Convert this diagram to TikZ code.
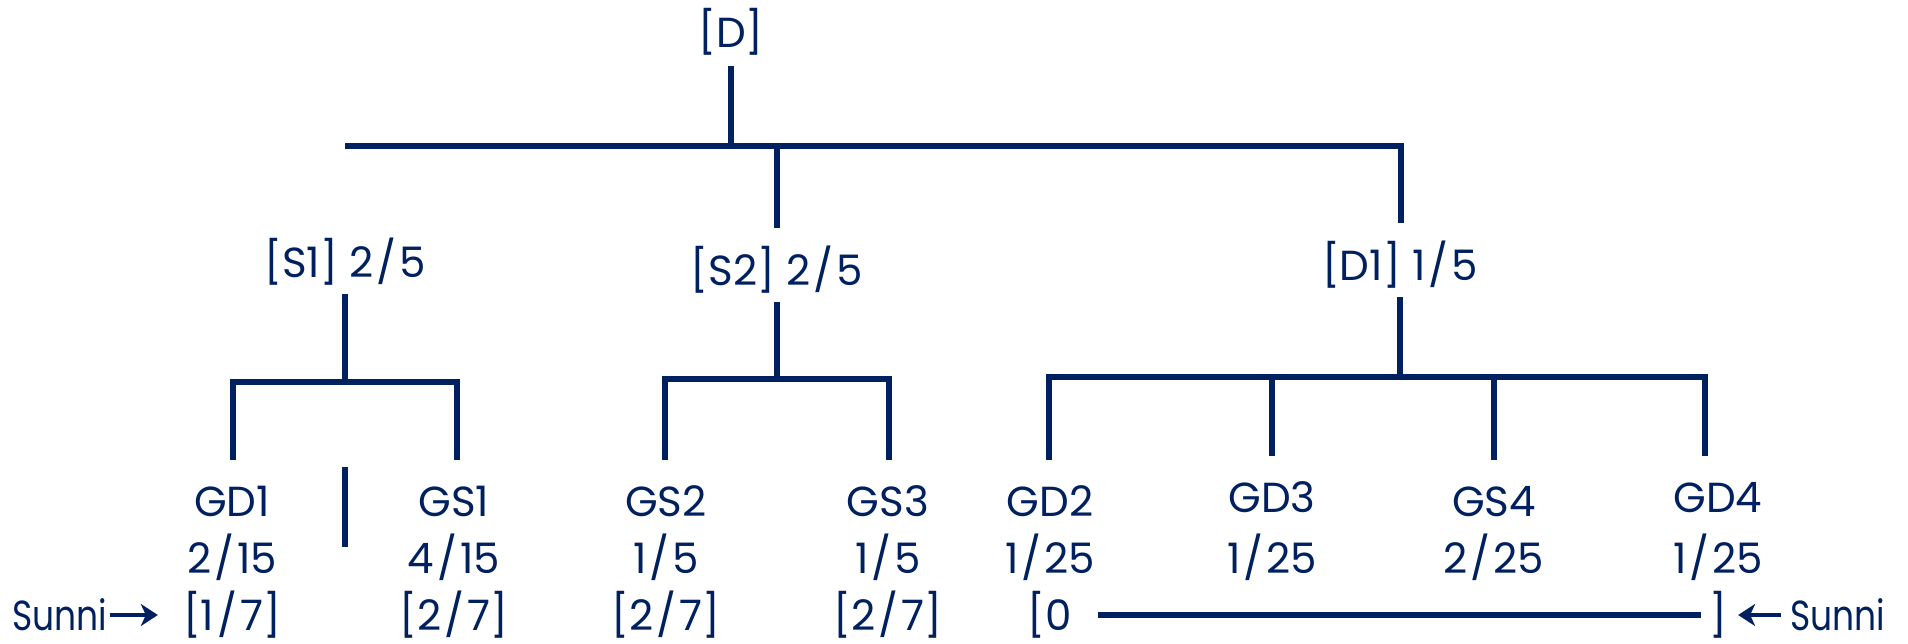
\documentclass[tikz,border=0pt]{standalone}
\usepackage{fontspec}
\setmainfont{Poppins}
\newfontfamily\tagfont{Poppins}[FakeStretch=0.82]
\usetikzlibrary{arrows.meta}
\definecolor{navy}{RGB}{0,32,96}
\newcommand\frsl{\kern3pt/\kern3pt}

\begin{document}
\begin{tikzpicture}[x=1pt, y=-1pt,
    lbl/.style={text=navy, font=\fontsize{42}{48}\selectfont, inner sep=0pt,
                text height=30pt, text depth=0pt, anchor=base},
    par/.style={lbl, text height=57pt, text depth=17pt},
    leaf/.style={lbl, text height=56pt},
    tag/.style={lbl, font=\fontsize{42}{48}\selectfont\tagfont, inner xsep=2pt},
    br/.style={draw=navy, line width=6pt},
    arr/.style={-{Stealth[length=17pt, width=22pt, inset=5pt]}, navy, line width=4.5pt}
  ]
  \useasboundingbox (0,0) rectangle (1908,644);

  % deceased and children
  \node[lbl, text depth=18pt] (d) at (731,48) {[D]};
  \node[par] (s1) at (345,277) {[S1] 2\frsl 5};
  \node[par] (s2) at (777,285) {[S2] 2\frsl 5};
  \node[par] (d1) at (1400,280) {[D1] 1\frsl 5};

  % grandchildren: name and share
  \foreach \nm/\px/\py/\ta/\tb in {gd1/232/516/GD1/2\frsl 15, gs1/454/516/GS1/4\frsl 15,
      gs2/666/516/GS2/1\frsl 5, gs3/888/516/GS3/1\frsl 5, gd2/1050/516/GD2/1\frsl 25,
      gd3/1272/512/GD3/1\frsl 25, gs4/1494/516/GS4/2\frsl 25, gd4/1718/512/GD4/1\frsl 25}
  {
    \node[leaf] (\nm) at (\px,\py) {\ta};
    \node[lbl] (\nm-s) at (\px,573) {\tb};
  }
  \foreach \nm/\px/\tc in {gd1/232/[1\frsl 7], gs1/454/[2\frsl 7], gs2/666/[2\frsl 7], gs3/888/[2\frsl 7]}
    \node[lbl] (\nm-r) at (\px,630) {\tc};
  \node[lbl] (gd2-r) at (1050,630) {[0};
  \node[lbl] (gd4-r) at (1718,630) {]};
  \node[tag] (sun-l) at (60,630) {Sunni};
  \node[tag] (sun-r) at (1838,630) {Sunni};

  % top bracket
  \coordinate (top-l) at (345,146);
  \coordinate (top-r) at (1401,146);
  \draw[br] (d.south) -- (d.south |- top-l);
  \draw[br] (top-l) -- (top-r) -- (top-r |- d1.north);
  \draw[br] (s2.north |- top-l) -- (s2.north);

  % S1 bracket
  \coordinate (s1-l) at (233,382);
  \coordinate (s1-r) at (457,382);
  \coordinate (s1-m) at (345,467);
  \draw[br] (s1.south) -- (s1.south |- s1-l);
  \draw[br] (s1-l |- gd1.north) -- (s1-l) -- (s1-r) -- (s1-r |- gs1.north);
  \draw[br] (s1-m) -- ++(0,80);

  % S2 bracket
  \coordinate (s2-l) at (665,379);
  \coordinate (s2-r) at (889,379);
  \draw[br] (s2.south) -- (s2.south |- s2-l);
  \draw[br] (s2-l |- gs2.north) -- (s2-l) -- (s2-r) -- (s2-r |- gs3.north);

  % D1 bracket
  \coordinate (d1-l) at (1049,377);
  \coordinate (d1-r) at (1705,377);
  \draw[br] (d1.south) -- (d1.south |- d1-l);
  \draw[br] (d1-l |- gd2.north) -- (d1-l) -- (d1-r) -- (d1-r |- gd4.north);
  \draw[br] (gd3.north |- d1-l) -- (gd3.north);
  \draw[br] (gs4.north |- d1-l) -- (gs4.north);

  % excluded range and Sunni pointers
  \draw[br, shorten <=26pt, shorten >=8pt] (gd2-r.east) -- (gd4-r.west);
  \draw[arr, shorten >=25pt] (sun-l.east) -- (sun-l.east -| gd1-r.west);
  \draw[arr, shorten <=7pt, shorten >=11pt] (sun-r.west) -- (sun-r.west -| gd4-r.east);
\end{tikzpicture}
\end{document}
